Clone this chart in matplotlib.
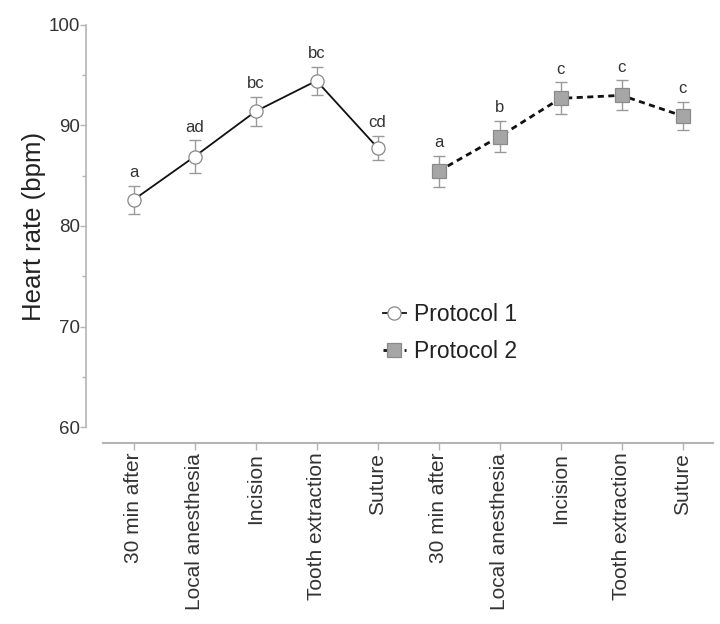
import matplotlib
matplotlib.use("Agg")
import matplotlib.pyplot as plt
import numpy as np

plt.rcParams['font.family'] = ['Liberation Sans', 'DejaVu Sans']

categories = ["30 min after", "Local anesthesia", "Incision", "Tooth extraction", "Suture"]
p1_mean = [82.6, 86.9, 91.4, 94.45, 87.8]
p1_err = [1.4, 1.65, 1.45, 1.4, 1.2]
p1_letters = ["a", "ad", "bc", "bc", "cd"]
p2_mean = [85.45, 88.9, 92.7, 93.0, 90.95]
p2_err = [1.55, 1.55, 1.6, 1.5, 1.4]
p2_letters = ["a", "b", "c", "c", "c"]

axis_gray = "#b4b4b4"
text_col = "#333333"

fig = plt.figure(figsize=(7.2, 6.24), dpi=100)
ax = fig.add_axes([103/720, 1-427/624, 610/720, (427-25)/624])

x1 = np.arange(5)
x2 = np.arange(5, 10)

ax.errorbar(x1, p1_mean, yerr=p1_err, fmt='none', ecolor='#9a9a9a', elinewidth=1.0, capsize=4.5, capthick=1.0, zorder=2)
ax.errorbar(x2, p2_mean, yerr=p2_err, fmt='none', ecolor='#9a9a9a', elinewidth=1.0, capsize=4.5, capthick=1.0, zorder=2)
ax.plot(x1, p1_mean, '-', color='#111111', lw=1.3, marker='o', ms=9.5, mfc='white', mec='#888888', mew=0.9, zorder=3, label='Protocol 1')
ax.plot(x2, p2_mean, '--', color='#111111', lw=2.0, dashes=(2.2, 1.6), marker='s', ms=10, mfc='#a6a6a6', mec='#8a8a8a', mew=0.9, zorder=3, label='Protocol 2')

for xi, m, e, t in zip(x1, p1_mean, p1_err, p1_letters):
    ax.annotate(t, (xi, m + e), xytext=(0, 4), textcoords='offset points', ha='center', va='bottom', fontsize=12, color=text_col)
for xi, m, e, t in zip(x2, p2_mean, p2_err, p2_letters):
    ax.annotate(t, (xi, m + e), xytext=(0, 4), textcoords='offset points', ha='center', va='bottom', fontsize=12, color=text_col)

ax.set_xlim(-0.5, 9.5)
ax.set_ylim(60, 100)
ax.set_xticks(np.arange(10))
ax.set_xticklabels(categories + categories)
ax.set_yticks([60, 70, 80, 90, 100])
ax.set_yticks([65, 75, 85, 95], minor=True)
ax.tick_params(axis='y', labelsize=13.5, labelcolor=text_col, color=axis_gray, length=4, width=1.0, pad=0.5)
ax.tick_params(axis='y', which='minor', color=axis_gray, length=3, width=1.0)
ax.tick_params(axis='x', color=axis_gray, length=5, width=1.0, pad=2, labelrotation=90,
               labelsize=15, labelcolor=text_col)

for s in ['top', 'right']:
    ax.spines[s].set_visible(False)
ax.spines['left'].set_position(('outward', 17 * 0.72))
ax.spines['bottom'].set_position(('outward', 16 * 0.72))
ax.spines['left'].set_color(axis_gray)
ax.spines['bottom'].set_color(axis_gray)
ax.spines['left'].set_linewidth(1.2)
ax.spines['bottom'].set_linewidth(1.5)

ax.set_ylabel("Heart rate (bpm)", fontsize=18.5, color='#222222', labelpad=2)

leg = ax.legend(loc='upper left', bbox_to_anchor=(0.425, 0.36), frameon=False, fontsize=16.5,
                handlelength=1.0, handletextpad=0.35, labelspacing=0.6)
for t in leg.get_texts():
    t.set_color('#222222')

fig.savefig("out.png", dpi=100)
